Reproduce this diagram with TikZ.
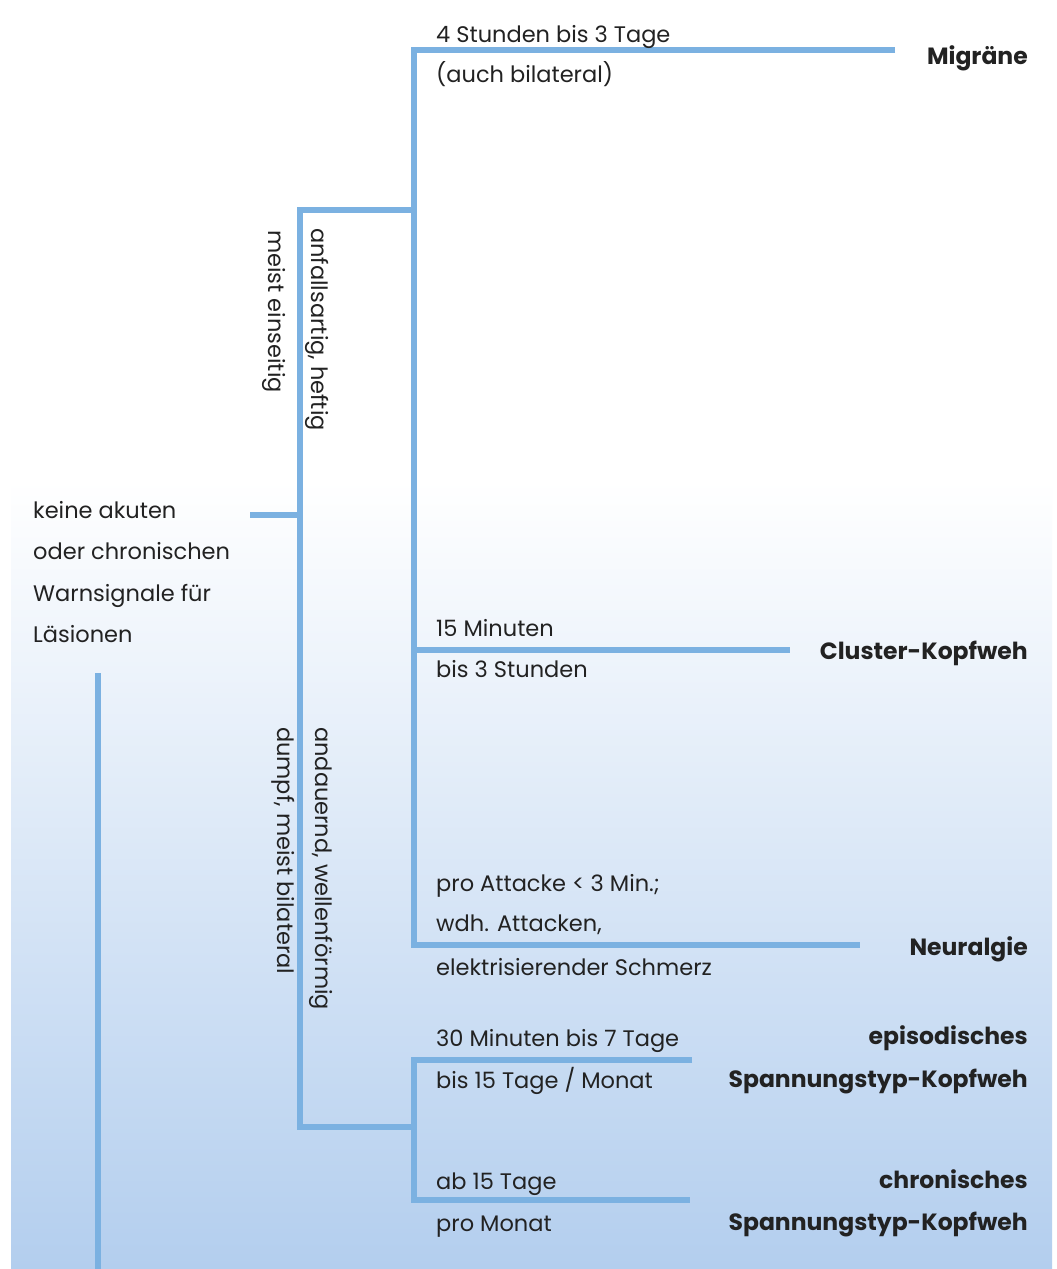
\documentclass[tikz,border=0pt]{standalone}
\usepackage{fontspec}
\setmainfont{Poppins}
\definecolor{linecol}{HTML}{7BB1E1}
\definecolor{bgblue}{HTML}{B3CEEE}
\definecolor{txt}{HTML}{222222}
\begin{document}
\begin{tikzpicture}[x=1pt,y=-1pt,
  conn/.style={draw=linecol,line width=6pt,line cap=butt,line join=miter},
  body/.style={inner sep=0pt,text=txt,font=\fontsize{22.5}{27}\selectfont},
  lft/.style={body,anchor=base west},
  lab/.style={body,anchor=base east,font=\fontsize{23.5}{28}\selectfont\bfseries},
  vert/.style={body,anchor=base west,rotate=-90}]
\useasboundingbox (0,0) rectangle (1057,1269);
% background
\fill[white] (0,0) rectangle (1057,1269);
\shade[top color=white,bottom color=bgblue] (11,480) rectangle (1052,1269);
% junction coordinates
\coordinate (stubL) at (250,515);
\coordinate (stubR) at (300,515);
\coordinate (aTop) at (300,210);
\coordinate (aBot) at (300,1127);
\coordinate (bTop) at (414,50);
\coordinate (bMid) at (414,210);
\coordinate (bClu) at (414,650);
\coordinate (bNeu) at (414,945);
\coordinate (mig) at (895,50);
\coordinate (clu) at (790,650);
\coordinate (neu) at (860,945);
\coordinate (cMid) at (414,1127);
\coordinate (cTop) at (414,1060);
\coordinate (cBot) at (414,1200);
\coordinate (epi) at (692,1060);
\coordinate (chr) at (690,1200);
\coordinate (mainTop) at (98,673);
\coordinate (mainBot) at (98,1269);
% connectors
\draw[conn] (mainTop) -- (mainBot);
\draw[conn] (stubL) -- (stubR);
\draw[conn] (bMid) -- (aTop) -- (aBot) -- (cMid);
\draw[conn] (mig) -- (bTop) -- (bNeu) -- (neu);
\draw[conn] (bClu) -- (clu);
\draw[conn] (epi) -- (cTop) -- (cBot) -- (chr);
% texts
\node[lft] (t1) at (33,518) {keine akuten};
\node[lft] (t2) at (33,559) {oder chronischen};
\node[lft] (t3) at (33,601) {Warnsignale für};
\node[lft] (t4) at (33,642) {Läsionen};
\node[vert] (v1) at (311,228) {anfallsartig, heftig};
\node[vert] (v2) at (268,230) {meist einseitig};
\node[vert] (v3) at (315,727) {andauernd, wellenförmig};
\node[vert] (v4) at (277,727) {dumpf, meist bilateral};
\node[lft] (m1) at (436,42) {4 Stunden bis 3 Tage};
\node[lft] (m2) at (436,82) {(auch bilateral)};
\node[lab] (migl) at (1028,64) {Migräne};
\node[lft] (c1) at (436,636) {15 Minuten};
\node[lft] (c2) at (436,677) {bis 3 Stunden};
\node[lab] (clul) at (1028,659) {Cluster-Kopfweh};
\node[lft] (n1) at (436,891) {pro Attacke < 3 Min.;};
\node[lft] (n2) at (436,931) {wdh. Attacken,};
\node[lft] (n3) at (436,975) {elektrisierender Schmerz};
\node[lab] (neul) at (1028,955) {Neuralgie};
\node[lft] (e1) at (436,1046) {30 Minuten bis 7 Tage};
\node[lft] (e2) at (436,1088) {bis 15 Tage / Monat};
\node[lab] (epl1) at (1028,1044) {episodisches};
\node[lab] (epl2) at (1028,1087) {Spannungstyp-Kopfweh};
\node[lft] (h1) at (436,1189) {ab 15 Tage};
\node[lft] (h2) at (436,1231) {pro Monat};
\node[lab] (chl1) at (1028,1188) {chronisches};
\node[lab] (chl2) at (1028,1230) {Spannungstyp-Kopfweh};
\end{tikzpicture}
\end{document}
